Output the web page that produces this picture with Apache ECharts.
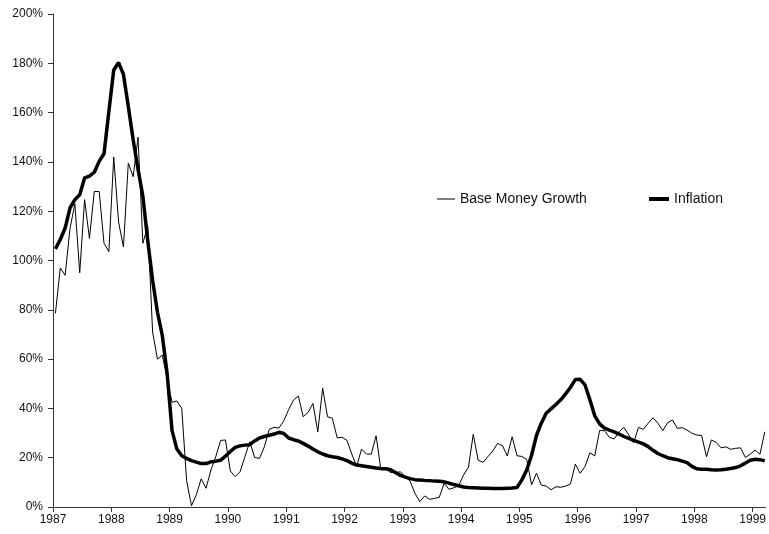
<!DOCTYPE html>
<html>
<head>
<meta charset="utf-8">
<script src="https://cdn.jsdelivr.net/npm/echarts@6/dist/echarts.min.js"></script>
<style>
  html, body { margin: 0; padding: 0; background: #fff; }
  #main { width: 769px; height: 534px; }
</style>
</head>
<body>
<div id="main"></div>
<script>
// monthly series, Jan 1987 .. Mar 1999 (percent, year on year)
const startYear = 1987;
const yearTicks = [1987, 1988, 1989, 1990, 1991, 1992, 1993, 1994, 1995, 1996, 1997, 1998, 1999];

const baseMoney = [
  78.6, 97, 94, 113, 123, 95, 124.7, 109, 128, 128, 107, 103.6,
  142, 115.6, 105.5, 139.5, 134, 150, 107, 114, 71, 60, 61.6, 52,
  42.5, 43, 40, 10.6, 0.5, 5, 11.4, 7.6, 15, 20.4, 27, 27.2,
  14.6, 12.3, 14.3, 20.4, 26.5, 20.1, 19.7, 24.4, 31.5, 32.3, 32, 35,
  39.5, 43.4, 45, 36.6, 38.4, 42, 30.5, 48.2, 36.6, 36, 28, 28.3,
  27, 21.5, 16.4, 23.5, 21.5, 21.4, 28.9, 15, 15.3, 14, 13.9, 14.3,
  12.3, 10.5, 5.5, 2.2, 4.5, 3.1, 3.5, 3.9, 9.6, 7.2, 7.8, 8.6,
  13, 16.1, 29.5, 19, 18.1, 20.4, 22.7, 25.8, 24.9, 20.7, 28.5, 20.8,
  20.5, 19.3, 9, 13.7, 8.9, 8.5, 7, 8.2, 8, 8.5, 9.3, 17.4,
  13.7, 16.4, 22, 20.7, 31, 31, 28.3, 27.6, 30.5, 32.3, 29.2, 26.1,
  32.3, 31.5, 34, 36.2, 34, 31, 34.2, 35.3, 31.9, 32.2, 31.2, 29.9,
  29.2, 29, 20.4, 27.2, 26.2, 24, 24.4, 23.4, 23.8, 24, 20.1, 21.4,
  23.1, 21.4, 30.5
];

const inflation = [
  104.7, 108.5, 113.2, 121.3, 124.7, 126.7, 133.5, 134.2, 135.8, 140.2, 143.3, 160.5,
  177.3, 180.3, 175.5, 162.5, 149, 137, 126, 108, 92, 79, 69.5, 54,
  31, 23.5, 20.8, 19.7, 18.8, 18.2, 17.6, 17.6, 18.3, 18.6, 19, 20.6,
  22.5, 24.2, 24.8, 25.1, 25.3, 26.8, 28, 28.6, 29.1, 29.6, 30.3, 29.8,
  28, 27.3, 26.8, 25.8, 24.7, 23.5, 22.4, 21.5, 20.8, 20.4, 20.1, 19.5,
  18.8, 17.8, 17, 16.7, 16.4, 16.1, 15.8, 15.6, 15.5, 15.1, 14, 12.8,
  12.1, 11.5, 11.1, 11, 10.8, 10.7, 10.5, 10.4, 10.2, 9.7, 9.1, 8.6,
  8.1, 7.9, 7.8, 7.7, 7.6, 7.6, 7.5, 7.5, 7.5, 7.6, 7.7, 7.9,
  11, 15, 21, 29, 34, 38, 39.8, 41.6, 43.5, 45.9, 48.5, 51.7,
  51.8, 49.5, 43.5, 37, 33.7, 32, 31.2, 30.5, 29.6, 28.6, 27.8, 27,
  26.3, 25.6, 24.5, 23, 21.7, 20.8, 20, 19.6, 19.2, 18.6, 18, 16.5,
  15.5, 15.3, 15.3, 15.1, 15, 15.1, 15.3, 15.6, 16, 16.7, 17.8, 19,
  19.4, 19.2, 18.7
];

// place each monthly value in the middle of its month
function toPoints(arr) {
  return arr.map(function (v, i) {
    return [startYear + (i + 0.5) / 12, v];
  });
}

var chartDom = document.getElementById("main");
var myChart = echarts.init(chartDom);
var font = "Liberation Sans, Arial, sans-serif";

var option = {
  animation: false,
  backgroundColor: "#fff",
  grid: { left: 53, right: 1, top: 14, bottom: 27 },
  legend: [
    {
      data: [{ name: "Base Money Growth", icon: "rect" }],
      left: 437,
      top: 192,
      padding: 0,
      itemWidth: 18,
      itemHeight: 1,
      textStyle: { fontSize: 14, fontFamily: font, color: "#111" },
    },
    {
      data: [{ name: "Inflation", icon: "rect" }],
      left: 649,
      top: 192,
      padding: 0,
      itemWidth: 20,
      itemHeight: 4,
      textStyle: { fontSize: 14, fontFamily: font, color: "#111" },
    },
  ],
  xAxis: {
    type: "value",
    min: 1987,
    max: 1999.22,
    interval: 1,
    splitLine: { show: false },
    axisLine: { onZero: false, lineStyle: { color: "#333", width: 1 } },
    axisTick: { customValues: yearTicks, length: 5, lineStyle: { color: "#333" } },
    axisLabel: {
      customValues: yearTicks,
      margin: 7,
      fontSize: 12,
      fontFamily: font,
      color: "#111",
      formatter: function (v) { return String(Math.round(v)); },
    },
  },
  yAxis: {
    type: "value",
    min: 0,
    max: 200,
    interval: 20,
    splitLine: { show: false },
    axisLine: { show: true, lineStyle: { color: "#333", width: 1 } },
    axisTick: { show: true, length: 5, lineStyle: { color: "#333" } },
    axisLabel: {
      margin: 10,
      fontSize: 12,
      fontFamily: font,
      color: "#111",
      formatter: "{value}%",
    },
  },
  series: [
    {
      name: "Base Money Growth",
      type: "line",
      data: toPoints(baseMoney),
      symbol: "none",
      lineStyle: { color: "#000", width: 1 },
      itemStyle: { color: "#000" },
      z: 3,
    },
    {
      name: "Inflation",
      type: "line",
      data: toPoints(inflation),
      symbol: "none",
      lineStyle: { color: "#000", width: 3.5 },
      itemStyle: { color: "#000" },
      z: 2,
    },
  ],
};

myChart.setOption(option);
</script>
</body>
</html>
